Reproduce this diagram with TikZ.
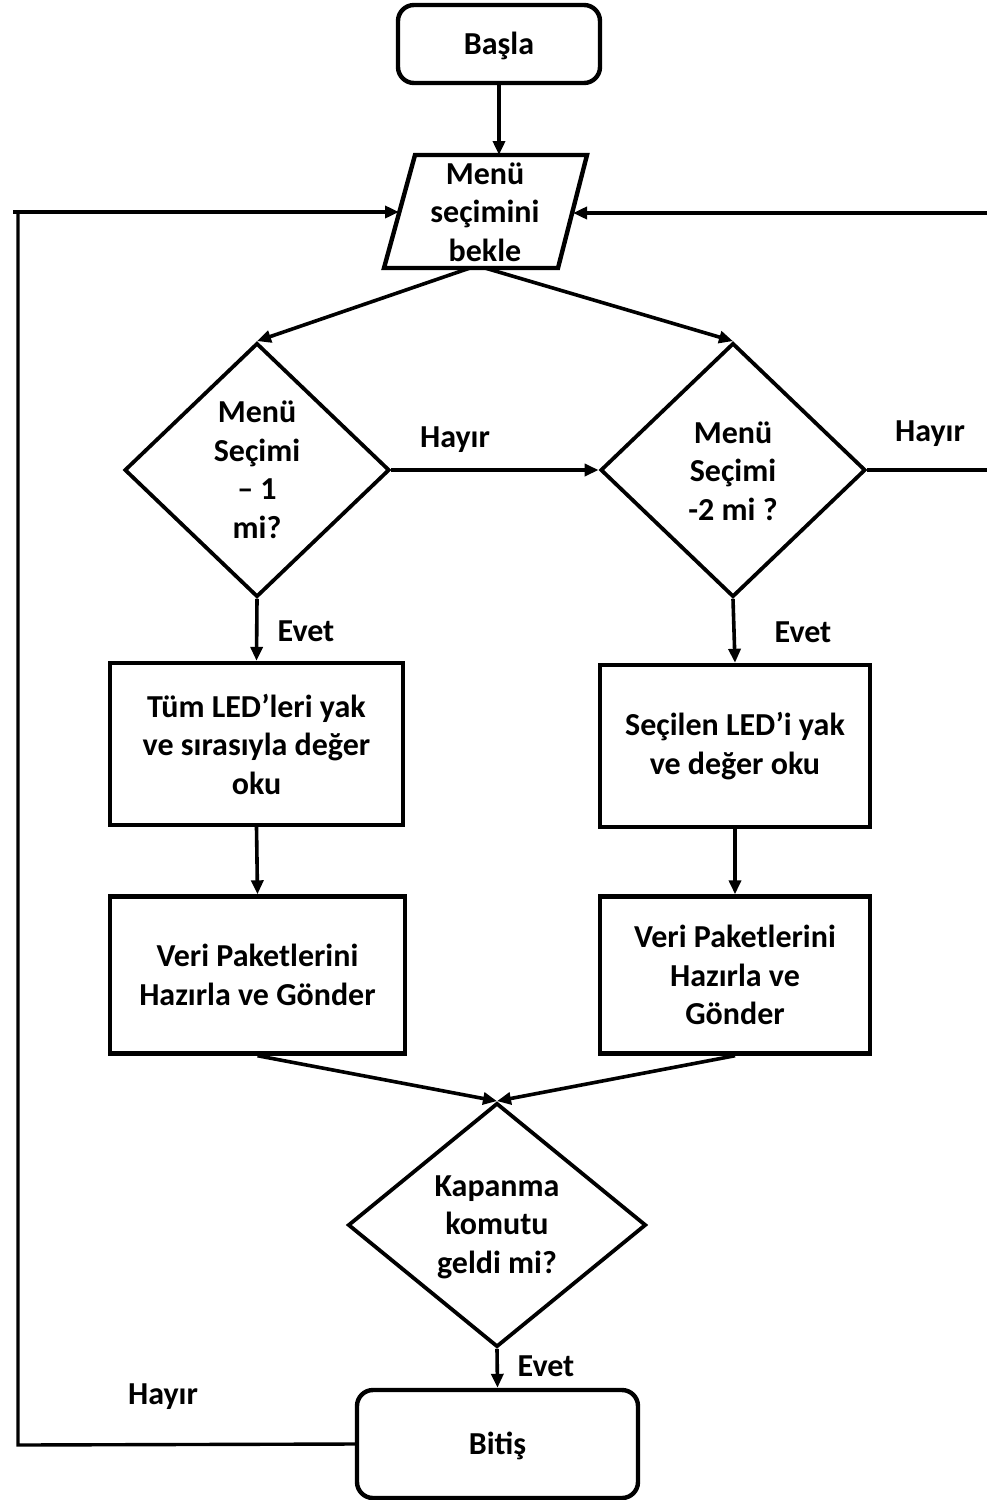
\documentclass[tikz,border=0pt]{standalone}
\usepackage{fontspec}
\setmainfont{Carlito}
\usetikzlibrary{shapes.geometric,arrows.meta}
\begin{document}
\begin{tikzpicture}[x=1pt,y=1pt,
  every node/.style={font=\bfseries\fontsize{32}{38.5}\selectfont, align=center, inner sep=0pt},
  boxshape/.style={draw, line width=4.4pt, rectangle, minimum width=#1, minimum height=157},
  roundshape/.style={draw, line width=4.4pt, rectangle, rounded corners=16pt},
  decshape/.style={draw, line width=3.8pt, diamond, minimum width=265, minimum height=254},
  conn/.style={line width=3.6pt, -{Triangle[length=14pt,width=12pt]}},
  plain/.style={line width=3.4pt},
  lbl/.style={}]
\useasboundingbox (0,0) rectangle (987,-1500);

% start
\node[roundshape, minimum width=202, minimum height=78] (start) at (499,-44) {};
\node (startt) at (499,-46) {Başla};

% wait (parallelogram)
\coordinate (p1) at (415,-155);
\coordinate (p2) at (587,-155);
\coordinate (p3) at (558,-268);
\coordinate (p4) at (384,-268);
\draw[line width=4.4pt, line join=miter] (p1) -- (p2) -- (p3) -- (p4) -- cycle;
\node (wait) at (485,-212) {Menü\\seçimini\\bekle};
\coordinate (wtop) at (499,-155);
\coordinate (wl) at (399,-212);
\coordinate (wr) at (573,-213);
\coordinate (wb1) at (470,-268);
\coordinate (wb2) at (485,-268);

% decisions
\node[decshape] (d1) at (257,-470) {};
\node (d1t) at (257,-470) {Menü\\Seçimi\\– 1\\mi?};
\node[decshape] (d2) at (733,-470) {};
\node (d2t) at (733,-471) {Menü\\Seçimi\\-2 mi ?};

% process boxes
\node[boxshape=293, minimum height=162] (b1) at (256.5,-744) {Tüm LED’leri yak\\ve sırasıyla değer\\oku};
\node[boxshape=270, minimum height=162] (b2) at (735,-746) {Seçilen LED’i yak\\ve değer oku};
\node[boxshape=295] (b3) at (257.5,-975) {Veri Paketlerini\\Hazırla ve Gönder};
\node[boxshape=270] (b4) at (735,-975) {Veri Paketlerini\\Hazırla ve\\Gönder};

% final decision
\node[decshape, minimum width=298, minimum height=244] (d3) at (497,-1225) {};
\node (d3t) at (497,-1227) {Kapanma\\komutu\\geldi mi?};

% end
\node[roundshape, minimum width=281, minimum height=108] (end) at (497.5,-1444) {};
\node (endt) at (497.5,-1446) {Bitiş};

% connectors
\draw[conn] (start.south) -- (wtop);
\draw[conn] (wb1) -- (d1.north);
\draw[conn] (wb2) -- (d2.north);
\draw[conn] (d1.east) -- (d2.west);
\draw[conn] (d1.south) -- (b1.north);
\draw[conn] (d2.south) -- (b2.north);
\draw[conn] (b1.south) -- (b3.north);
\draw[conn] (b2.south) -- (b4.north);
\draw[conn] (b3.south) -- (d3.north);
\draw[conn] (b4.south) -- (d3.north);
\draw[conn] (d3.south) -- (end.north);

% right loop (goes off the page edge)
\coordinate (rc1) at (1000,-470);
\coordinate (rc2) at (1000,-213);
\draw[plain] (d2.east) -- (rc1) -- (rc2);
\draw[conn] (rc2) -- (wr);

% left loop
\coordinate (lc1) at (18,-1445);
\coordinate (lc2) at (18,-213);
\coordinate (lc0) at (13,-212);
\draw[plain] (end.west) -- (lc1) -- (lc2);
\draw[conn] (lc0) -- (wl);

% labels
\node[lbl] (h1) at (455,-440) {Hayır};
\node[lbl] (h2) at (930,-434) {Hayır};
\node[lbl] (e1) at (306,-631) {Evet};
\node[lbl] (e2) at (803,-632) {Evet};
\node[lbl] (e3) at (546,-1366) {Evet};
\node[lbl] (h3) at (163,-1397) {Hayır};
\end{tikzpicture}
\end{document}
